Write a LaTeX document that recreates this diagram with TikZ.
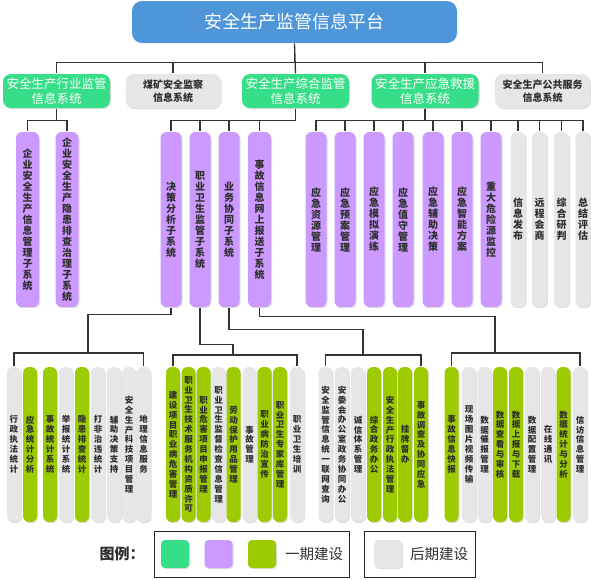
\documentclass[tikz,border=0pt]{standalone}
\usepackage{fontspec}
\setmainfont{Noto Sans CJK SC}
\usepackage[dvipsnames]{xcolor}
\usetikzlibrary{shadows}
\XeTeXlinebreaklocale "zh"
\XeTeXlinebreakskip = 0pt plus 1pt

\definecolor{platblue}{HTML}{4E95D9}
\definecolor{mintgreen}{HTML}{35DE87}
\definecolor{subpurple}{HTML}{CC99FF}
\definecolor{limegreen}{HTML}{9BCB00}
\definecolor{latergray}{HTML}{E6E6E6}
\definecolor{linegray}{HTML}{333333}
\definecolor{textdark}{HTML}{2E2E2E}

\begin{document}
\begin{tikzpicture}[x=1pt, y=-1pt, line width=1.3pt, draw=linegray,
    soft shadow/.style={drop shadow={shadow xshift=1pt, shadow yshift=-1.2pt, opacity=.25}},
    plat node/.style={rounded corners=10pt, fill=platblue, text=white, minimum width=325pt, minimum height=42pt, font=\fontsize{18}{20}\selectfont},
    sys main/.style={rounded corners=8pt, fill=mintgreen, text=white, minimum width=107pt, minimum height=34pt, align=center, inner sep=1pt, soft shadow, font=\fontsize{12.5}{15.5}\selectfont},
    sys later/.style={rounded corners=8pt, fill=latergray, text=textdark, minimum width=95pt, minimum height=34pt, align=center, inner sep=1pt, soft shadow, font=\fontsize{10}{13}\selectfont\bfseries},
    sub node/.style={rounded corners=6pt, minimum width=21pt, minimum height=175pt, text width=12pt, align=center, inner sep=0pt, text=textdark, soft shadow, font=\fontsize{10}{11}\selectfont\bfseries},
    sub purple/.style={sub node, fill=subpurple},
    sub later/.style={sub node, fill=latergray, minimum width=15pt},
    leaf node/.style={rounded corners=6pt, minimum width=14pt, minimum height=155pt, text width=10pt, align=center, inner sep=0pt, text=textdark, soft shadow, font=\fontsize{8.5}{9.9}\selectfont\bfseries},
    leaf lime/.style={leaf node, fill=limegreen},
    leaf later/.style={leaf node, fill=latergray},
    legend box/.style={draw=black!85, line width=1pt, minimum height=46pt},
    legend chip/.style={rounded corners=4pt, minimum size=28pt, soft shadow}]
    \useasboundingbox (0,0) rectangle (591,579);

    % platform and systems
    \node[plat node] (plat) at (294.5,22) {安全生产监管信息平台};
    \node[sys main] (hy) at (56.5,91) {安全生产行业监管\\信息系统};
    \node[sys later] (mk) at (173,91) {煤矿安全监察\\信息系统};
    \node[sys main] (zh) at (295.5,91) {安全生产综合监管\\信息系统};
    \node[sys main] (yj) at (425,91) {安全生产应急救援\\信息系统};
    \node[sys later] (gg) at (542.5,91) {安全生产公共服务\\信息系统};

    % subsystems
    \node[sub purple, minimum width=23pt] (qy1) at (27.5,219.5) {企业安全生产信息管理子系统};
    \node[sub purple, minimum width=23pt] (qy2) at (67,219.5) {企业安全生产隐患排查治理子系统};

    \node[sub purple] (jc) at (171,219.5) {决策分析子系统};
    \node[sub purple] (zy) at (200,219.5) {职业卫生监管子系统};
    \node[sub purple] (yw) at (229,219.5) {业务协同子系统};
    \node[sub purple, minimum width=23pt] (sg) at (259.5,219.5) {事故信息网上报送子系统};

    \node[sub purple] (yj1) at (316,219.5) {应急资源管理};
    \node[sub purple] (yj2) at (345,219.5) {应急预案管理};
    \node[sub purple] (yj3) at (374,219.5) {应急模拟演练};
    \node[sub purple] (yj4) at (403,219.5) {应急值守管理};
    \node[sub purple] (yj5) at (433,219.5) {应急辅助决策};
    \node[sub purple] (yj6) at (462,219.5) {应急智能方案};
    \node[sub purple] (yj7) at (491,219.5) {重大危险源监控};
    \node[sub later] (xx1) at (518,219.5) {信息发布};
    \node[sub later] (xx2) at (539.5,219.5) {远程会商};
    \node[sub later] (xx3) at (561.5,219.5) {综合研判};
    \node[sub later] (xx4) at (583,219.5) {总结评估};

    % functions of 决策分析
    \node[leaf later] (jc1) at (14,444.5) {行政执法统计};
    \node[leaf lime] (jc2) at (30,444.5) {应急统计分析};
    \node[leaf lime] (jc3) at (50,444.5) {事故统计系统};
    \node[leaf later] (jc4) at (66,444.5) {举报统计系统};
    \node[leaf lime] (jc5) at (82,444.5) {隐患排查统计};
    \node[leaf later] (jc6) at (98,444.5) {打非治违统计};
    \node[leaf later] (jc7) at (114,444.5) {辅助决策支持};
    \node[leaf later] (jc8) at (129,444.5) {安全生产科技项目管理};
    \node[leaf later] (jc9) at (143.5,444.5) {地理信息服务};

    % functions of 职业卫生监管
    \node[leaf lime] (zy1) at (173,444.5) {建设项目职业病危害管理};
    \node[leaf lime] (zy2) at (188.5,444.5) {职业卫生技术服务机构资质许可};
    \node[leaf lime] (zy3) at (203.5,444.5) {职业危害项目申报管理};
    \node[leaf later] (zy4) at (218.5,444.5) {职业卫生监督检查信息管理};
    \node[leaf lime] (zy5) at (233.5,444.5) {劳动保护用品管理};
    \node[leaf later] (zy6) at (249.5,444.5) {事故管理};
    \node[leaf lime] (zy7) at (264.5,444.5) {职业病防治宣传};
    \node[leaf lime] (zy8) at (280,444.5) {职业卫生专家库管理};
    \node[leaf later] (zy9) at (297,444.5) {职业卫生培训};

    % functions of 业务协同
    \node[leaf later] (yw1) at (325.5,444.5) {安全监管信息统一联网查询};
    \node[leaf later] (yw2) at (342,444.5) {安委会办公室政务协同办公};
    \node[leaf later] (yw3) at (358,444.5) {诚信体系管理};
    \node[leaf lime] (yw4) at (374,444.5) {综合政务办公};
    \node[leaf lime] (yw5) at (390,444.5) {安全生产行政执法管理};
    \node[leaf lime] (yw6) at (405,444.5) {挂牌督办};
    \node[leaf lime] (yw7) at (421,444.5) {事故调查及协同应急};

    % functions of 事故信息网上报送
    \node[leaf lime] (sg1) at (451.5,444.5) {事故信息快报};
    \node[leaf later] (sg2) at (469,444.5) {现场图片视频传输};
    \node[leaf later] (sg3) at (484.5,444.5) {数据催报管理};
    \node[leaf lime] (sg4) at (500,444.5) {数据查看与审核};
    \node[leaf lime] (sg5) at (516,444.5) {数据上报与下载};
    \node[leaf later] (sg6) at (532,444.5) {数据配置管理};
    \node[leaf later] (sg7) at (548,444.5) {在线通讯};
    \node[leaf lime] (sg8) at (563.5,444.5) {数据统计与分析};
    \node[leaf later] (sg9) at (580,444.5) {信访信息管理};

    % legend
    \node[text=textdark, font=\fontsize{15}{17}\selectfont\bfseries] (lgtitle) at (122,554) {图例：};
    \node[legend box, minimum width=195pt] (lgnow) at (251.5,554) {};
    \node[legend box, minimum width=111pt] (lglater) at (419.5,554) {};
    \node[legend chip, fill=mintgreen] (chipa) at (175,554) {};
    \node[legend chip, fill=subpurple] (chipb) at (218.5,554) {};
    \node[legend chip, fill=limegreen] (chipc) at (262,554) {};
    \node[legend chip, fill=latergray] (chipd) at (388,554) {};
    \node[text=textdark, font=\fontsize{14.5}{16}\selectfont] (lgnowtext) at (314,554) {一期建设};
    \node[text=textdark, font=\fontsize{14.5}{16}\selectfont] (lglatertext) at (439,554) {后期建设};

    % connectors
    \draw (plat.south) -- ++(0,19) -| (hy.north);
    \draw (plat.south) -- ++(0,19) -| (mk.north);
    \draw (plat.south) -- (zh.north);
    \draw (plat.south) -- ++(0,19) -| (yj.north);
    \draw (plat.south) -- ++(0,19) -| (gg.north);

    \draw (hy.south) -- ++(0,12) -| (qy1.north);
    \draw (hy.south) -- ++(0,12) -| (qy2.north);

    \draw (zh.south) -- ++(0,12) -| (jc.north);
    \draw (zh.south) -- ++(0,12) -| (zy.north);
    \draw (zh.south) -- ++(0,12) -| (yw.north);
    \draw (zh.south) -- ++(0,12) -| (sg.north);

    \draw (yj.south) -- ++(0,12) -| (yj1.north);
    \draw (yj.south) -- ++(0,12) -| (yj2.north);
    \draw (yj.south) -- ++(0,12) -| (yj3.north);
    \draw (yj.south) -- ++(0,12) -| (yj4.north);
    \draw (yj.south) -- ++(0,12) -| (yj5.north);
    \draw (yj.south) -- ++(0,12) -| (yj6.north);
    \draw (yj.south) -- ++(0,12) -| (yj7.north);
    \draw (yj.south) -- ++(0,12) -| (xx1.north);
    \draw (yj.south) -- ++(0,12) -| (xx2.north);
    \draw (yj.south) -- ++(0,12) -| (xx3.north);
    \draw (yj.south) -- ++(0,12) -| (xx4.north);

    \coordinate (jcbus) at (88,353);
    \coordinate (zybus) at (233,355);
    \coordinate (ywbus) at (363,355);
    \coordinate (sgbus) at (495,353);
    \draw (jc.south) -- ++(0,7) -| (jcbus);
    \draw (jc1.north) |- (jcbus) -| (jc9.north);
    \draw (zy.south) -- ++(0,37) -| (zybus);
    \draw (zy1.north) |- (zybus) -| (zy9.north);
    \draw (yw.south) -- ++(0,22) -| (ywbus);
    \draw (yw1.north) |- (ywbus) -| (yw7.north);
    \draw (sg.south) -- ++(0,9) -| (sgbus);
    \draw (sg1.north) |- (sgbus) -| (sg9.north);
\end{tikzpicture}
\end{document}
